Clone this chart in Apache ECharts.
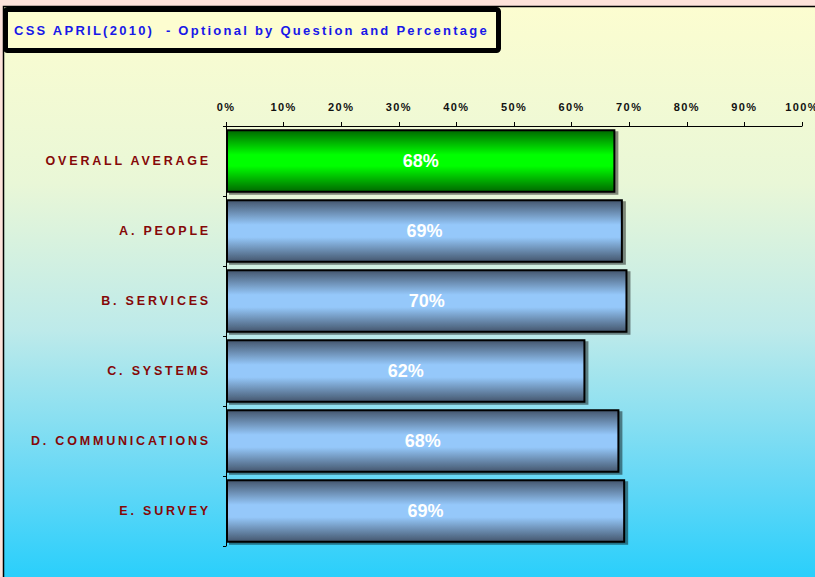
<!DOCTYPE html>
<html>
<head>
<meta charset="utf-8">
<script src="https://cdn.jsdelivr.net/npm/echarts@6/dist/echarts.min.js"></script>
<style>
  html, body { margin: 0; padding: 0; background: #fde2da; overflow: hidden; }
  #chart { width: 815px; height: 577px; }
  #chart svg text[data-ls="11"] { letter-spacing: 1.4px; }
  #chart svg text[data-ls="12"] { letter-spacing: 2.8px; }
  #chart svg text[data-ls="13"] { letter-spacing: 2.25px; }
  #chart svg text[data-ls="18"] { letter-spacing: 0; }
</style>
</head>
<body>
<div id="chart"></div>
<script>
const categories = ['OVERALL AVERAGE', 'A. PEOPLE', 'B. SERVICES', 'C. SYSTEMS', 'D. COMMUNICATIONS', 'E. SURVEY'];
const values = [67.6, 68.9, 69.7, 62.4, 68.3, 69.3];
const highlight = [true, false, false, false, false, false];
const titleText = 'CSS APRIL(2010)  - Optional by Question and Percentage';

function vgrad(stops) {
  return new echarts.graphic.LinearGradient(0, 0, 0, 1, stops.map(s => ({offset: s[0], color: s[1]})));
}
const greenFill = vgrad([[0, '#006800'], [0.4, '#00ff00'], [0.58, '#00ff00'], [1, '#006800']]);
const blueFill = vgrad([[0, '#44566d'], [0.4, '#95c8fa'], [0.6, '#95c8fa'], [1, '#44566d']]);

const data = values.map((v, i) => ({
  value: v,
  itemStyle: { color: highlight[i] ? greenFill : blueFill }
}));

const chart = echarts.init(document.getElementById('chart'), null, { renderer: 'svg', width: 815, height: 577 });
chart.setOption({
  animation: false,
  backgroundColor: '#fde2da',
  graphic: [
    {
      type: 'rect', z: -100, silent: true,
      shape: { x: 3.5, y: 6.5, width: 830, height: 590 },
      style: {
        fill: vgrad([[0, '#fcfdd0'], [0.3, '#e9f7d7'], [0.55, '#bdeaea'], [0.8, '#66d8f6'], [1, '#1ecdfc']]),
        stroke: '#000', lineWidth: 1.5
      }
    },
    {
      type: 'rect', z: 100, silent: true,
      shape: { x: 5.5, y: 9.5, width: 493, height: 41, r: 2 },
      style: { fill: '#fdfdd0', stroke: '#000', lineWidth: 5 }
    },
    {
      type: 'text', z: 101, silent: true,
      x: 14, y: 30,
      style: {
        text: titleText, fill: '#1818e8',
        font: 'bold 13px Arial, "Liberation Sans", sans-serif',
        verticalAlign: 'middle'
      }
    }
  ],
  grid: { left: 226, right: 13, top: 126, bottom: 31, containLabel: false, outerBoundsMode: 'none' },
  xAxis: {
    type: 'value', position: 'top', min: 0, max: 100, interval: 10,
    axisLine: { show: true, lineStyle: { color: '#000', width: 1 } },
    axisTick: { show: true, length: 4, lineStyle: { color: '#000' } },
    splitLine: { show: false },
    axisLabel: {
      formatter: '{value}%', color: '#111', fontWeight: 'bold', fontSize: 11,
      fontFamily: 'Arial, "Liberation Sans", sans-serif', margin: 14
    }
  },
  yAxis: {
    type: 'category', data: categories, inverse: true,
    axisLine: { show: true, lineStyle: { color: '#000', width: 1 } },
    axisTick: { show: true, length: 3, lineStyle: { color: '#000' } },
    axisLabel: {
      color: '#850808', fontWeight: 'bold', fontSize: 12.5,
      fontFamily: 'Arial, "Liberation Sans", sans-serif', margin: 15
    }
  },
  series: [{
    type: 'bar', data: data, barCategoryGap: '9%',
    itemStyle: {
      borderColor: '#000', borderWidth: 2,
      shadowColor: 'rgba(0,0,0,0.45)', shadowOffsetX: 3, shadowOffsetY: 2, shadowBlur: 1
    },
    label: {
      show: true, position: 'inside', color: '#fff', fontWeight: 'bold', fontSize: 18,
      fontFamily: 'Arial, "Liberation Sans", sans-serif',
      formatter: p => Math.round(p.value) + '%'
    }
  }]
});

function fixSpacing() {
  document.querySelectorAll('#chart svg text').forEach(t => {
    const s = (t.getAttribute('style') || '') + ' ' + (t.getAttribute('font-size') || '');
    const m = s.match(/(\d+)(\.\d+)?px/);
    if (m) t.setAttribute('data-ls', m[1]);
  });
}
fixSpacing();
chart.on('finished', fixSpacing);
</script>
</body>
</html>
